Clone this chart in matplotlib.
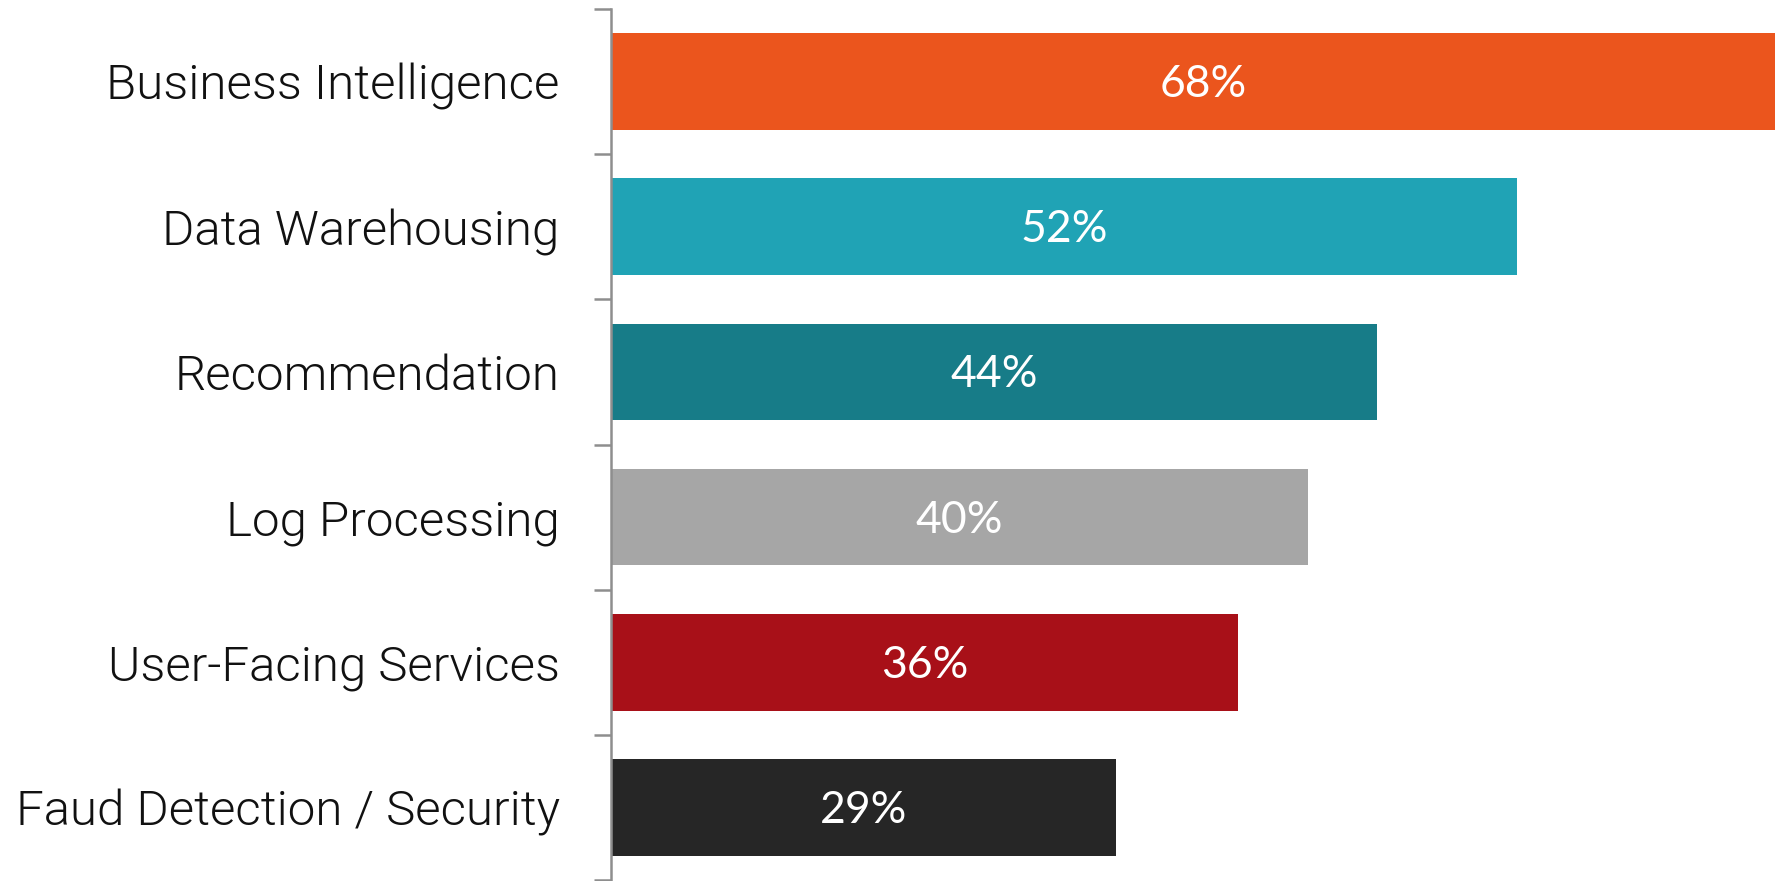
import matplotlib
matplotlib.use("Agg")
import matplotlib.pyplot as plt
import matplotlib.transforms as mtransforms
from matplotlib.ticker import FixedLocator

categories = [
    "Business Intelligence",
    "Data Warehousing",
    "Recommendation",
    "Log Processing",
    "User-Facing Services",
    "Faud Detection / Security",
]
values = [68, 52, 44, 40, 36, 29]
colors = ["#EB551D", "#20A3B5", "#177C88", "#A6A6A6", "#A81018", "#262626"]

W, H, DPI = 1775, 881, 100
fig = plt.figure(figsize=(W / DPI, H / DPI), dpi=DPI)
ax = fig.add_axes([611 / W, 1 / H, 1 - 611 / W, 871 / H])

pos = list(range(len(categories)))
ax.barh(pos, values, height=0.665, color=colors, left=0)

# value labels, nudged slightly down to sit optically centred in each bar
label_tf = ax.transData + mtransforms.ScaledTranslation(0, -3 / DPI, fig.dpi_scale_trans)
for p, v in zip(pos, values):
    ax.text(v / 2, p, f"{v}%", ha="center", va="center", color="white",
            fontsize=32, family="Lato", transform=label_tf)

ax.set_xlim(0, 66.84)
ax.set_ylim(5.5, -0.5)

for s in ["top", "right", "bottom"]:
    ax.spines[s].set_visible(False)
ax.spines["left"].set_color("#8E8E8E")
ax.spines["left"].set_linewidth(1.8)

ax.set_xticks([])
ax.set_yticks(pos)
ax.set_yticklabels(categories, family="Roboto", fontweight=300, fontsize=35.5,
                   color="#111111")
ax.tick_params(axis="y", which="major", length=0, pad=37)
ax.yaxis.set_minor_locator(FixedLocator([i - 0.5 for i in range(len(categories) + 1)]))
ax.tick_params(axis="y", which="minor", length=12, width=1.8, color="#8E8E8E")

fig.savefig("out.png", dpi=DPI)
